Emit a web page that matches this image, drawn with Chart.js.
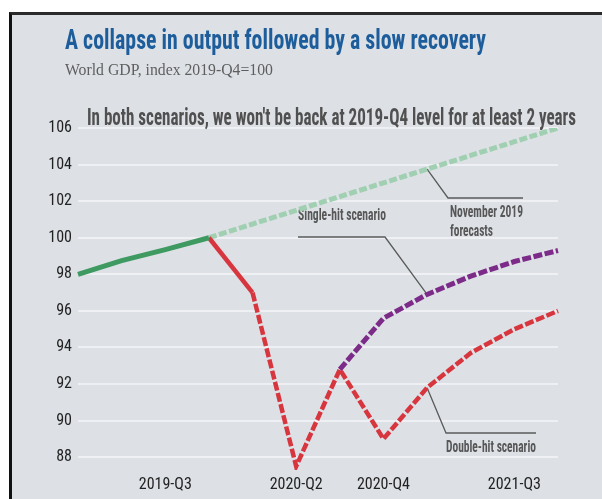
<!DOCTYPE html>
<html>
<head>
<meta charset="utf-8">
<title>World GDP scenarios</title>
<script src="https://cdn.jsdelivr.net/npm/chart.js@4.4.0/dist/chart.umd.min.js"></script>
<style>
  html, body { margin: 0; padding: 0; overflow: hidden; background: #fff; }
  #frame {
    position: absolute; left: 9px; top: 12px; width: 593px; height: 487px;
    box-sizing: border-box; background: #dde1e6;
    border-top: 3px solid #2b2b2b; border-left: 3px solid #111;
  }
  #gdpChart { position: absolute; left: 0; top: 0; }
</style>
</head>
<body>
<div id="frame"></div>
<canvas id="gdpChart" width="602" height="499"></canvas>
<script>
// quarters 2019-Q1 .. 2021-Q4
var quarters = ['2019-Q1', '2019-Q2', '2019-Q3', '2019-Q4',
                '2020-Q1', '2020-Q2', '2020-Q3', '2020-Q4',
                '2021-Q1', '2021-Q2', '2021-Q3', '2021-Q4'];
var shownQuarters = ['2019-Q3', '2020-Q2', '2020-Q4', '2021-Q3'];
var yTicks = [88, 90, 92, 94, 96, 98, 100, 102, 104, 106];

var actual     = [98, 98.75, 99.35, 100, null, null, null, null, null, null, null, null];
var nov2019    = [null, null, null, 100, 100.75, 101.5, 102.25, 103, 103.75, 104.5, 105.25, 106];
var doubleHit  = [null, null, null, 100, 97, 87.5, 92.8, 89, 91.8, 93.7, 95, 96];
var singleHit  = [null, null, null, null, null, null, 92.8, 95.6, 96.9, 97.9, 98.7, 99.3];

var NARROW = '"Liberation Sans Narrow", "Arial Narrow", "Roboto Condensed", "DejaVu Sans Condensed", sans-serif';

// draw a string squeezed/stretched to a given width
function fitText(ctx, text, x, y, w, font, color) {
    ctx.save();
    ctx.font = font;
    ctx.fillStyle = color;
    ctx.textBaseline = 'alphabetic';
    ctx.textAlign = 'left';
    var sx = w / ctx.measureText(text).width;
    ctx.translate(x, y);
    ctx.scale(sx, 1);
    ctx.fillText(text, 0, 0);
    ctx.restore();
}

function leader(ctx, pts) {
    ctx.save();
    ctx.strokeStyle = '#5a5a5a';
    ctx.lineWidth = 1.3;
    ctx.beginPath();
    ctx.moveTo(pts[0][0], pts[0][1]);
    for (var i = 1; i < pts.length; i++) ctx.lineTo(pts[i][0], pts[i][1]);
    ctx.stroke();
    ctx.restore();
}

var textPlugin = {
    id: 'gdpText',
    beforeDatasetsDraw: function (chart) {
        var ctx = chart.ctx;
        var x = chart.scales.x, y = chart.scales.y;

        fitText(ctx, 'A collapse in output followed by a slow recovery', 65, 49, 421,
            'bold 28px ' + NARROW, '#1d5d9b');
        fitText(ctx, 'World GDP, index 2019-Q4=100', 65, 75, 208,
            '17px "Liberation Serif", "DejaVu Serif", serif', '#5e5e5e');
        fitText(ctx, "In both scenarios, we won't be back at 2019-Q4 level for at least 2 years", 87, 125, 489,
            'bold 23px ' + NARROW, '#505050');

        // leader lines hang off the 2021-Q1 point of each series
        var px = x.getPixelForValue(8);
        leader(ctx, [[px, y.getPixelForValue(nov2019[8])], [448, 198], [523, 198]]);
        leader(ctx, [[px, y.getPixelForValue(singleHit[8])], [385, 237], [298, 237]]);
        leader(ctx, [[px, y.getPixelForValue(doubleHit[8])], [446, 433], [536, 433]]);

        var small = 'bold 17px ' + NARROW;
        fitText(ctx, 'November 2019', 450, 217, 73, small, '#575757');
        fitText(ctx, 'forecasts', 450, 236, 43, small, '#575757');
        fitText(ctx, 'Single-hit scenario', 298, 220, 88, small, '#575757');
        fitText(ctx, 'Double-hit scenario', 446, 452, 90, small, '#575757');
    }
};

new Chart(document.getElementById('gdpChart'), {
    type: 'line',
    data: {
        labels: quarters,
        datasets: [
            {
                label: 'Actual',
                data: actual,
                borderColor: '#3e9a60',
                borderWidth: 5,
                order: 1
            },
            {
                label: 'November 2019 forecasts',
                data: nov2019,
                borderColor: '#a1cfb1',
                borderWidth: 5,
                borderDash: [8, 2.5],
                order: 4
            },
            {
                label: 'Double-hit scenario',
                data: doubleHit,
                borderColor: '#d8363e',
                borderWidth: 4.5,
                borderDash: [],
                segment: {
                    borderDash: function (c) { return c.p0DataIndex >= 4 ? [9, 2.5] : undefined; }
                },
                order: 3
            },
            {
                label: 'Single-hit scenario',
                data: singleHit,
                borderColor: '#7c2b88',
                borderWidth: 5,
                borderDash: [9, 2.5],
                order: 2
            }
        ]
    },
    options: {
        responsive: false,
        animation: false,
        spanGaps: false,
        elements: {
            point: { radius: 0, hoverRadius: 0 },
            line: { tension: 0, borderCapStyle: 'butt', borderJoinStyle: 'miter', fill: false }
        },
        layout: { padding: { top: 128, right: 44, bottom: 0, left: 0 } },
        plugins: {
            legend: { display: false },
            tooltip: { enabled: false },
            title: { display: false }
        },
        scales: {
            x: {
                grid: { display: false, drawTicks: false },
                border: { display: false },
                afterFit: function (s) { s.height = 29; },
                ticks: {
                    autoSkip: false,
                    maxRotation: 0,
                    padding: 5,
                    color: '#222',
                    font: { family: NARROW, size: 16 },
                    callback: function (v) {
                        var q = quarters[v];
                        return shownQuarters.indexOf(q) >= 0 ? q : '';
                    }
                }
            },
            y: {
                min: 87.3,
                max: 106,
                afterFit: function (s) { s.width = 78; },
                afterBuildTicks: function (s) {
                    s.ticks = yTicks.map(function (v) { return { value: v }; });
                },
                grid: { color: '#eef0f3', lineWidth: 2, drawTicks: false },
                border: { display: false },
                ticks: {
                    padding: 6,
                    color: '#222',
                    font: { family: NARROW, size: 16 }
                }
            }
        }
    },
    plugins: [textPlugin]
});
</script>
</body>
</html>
